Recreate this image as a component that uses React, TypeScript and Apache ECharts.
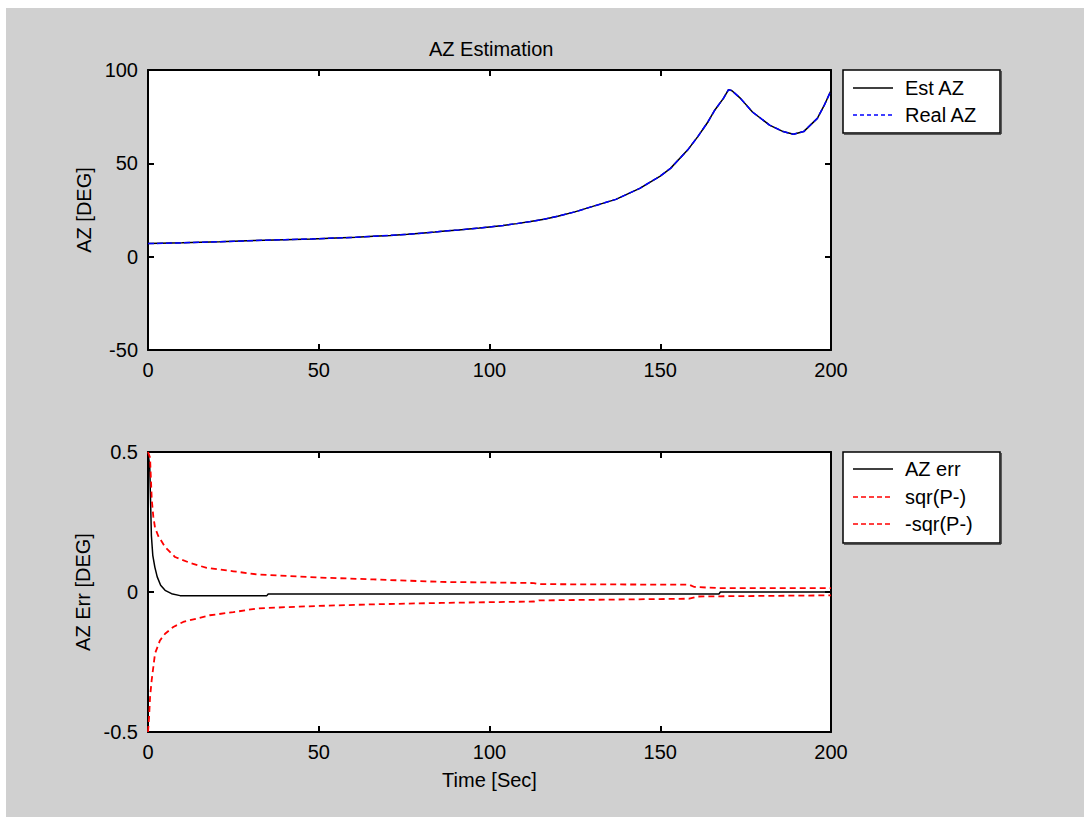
import React, { useEffect, useRef } from "react";
import * as echarts from "echarts";

// ---------- Data ----------
const titleText = "AZ Estimation";

const xTicks = [0, 50, 100, 150, 200];
const azTicks = [-50, 0, 50, 100];
const errTicks = [-0.5, 0, 0.5];

// Top plot: azimuth estimate vs. real azimuth
const azTime = [0, 10, 21, 31, 40, 48, 55, 61, 66, 71, 76, 80, 84, 87, 91, 94, 97, 100, 104, 108, 112, 116, 120, 125, 130, 137, 144, 150, 153, 158, 161, 164, 166, 168.5, 170, 171, 173.5, 177, 182, 186, 189, 192, 196, 198, 200];
const estAz = [7.0, 7.4, 8.0, 8.6, 9.1, 9.5, 10.0, 10.4, 10.9, 11.4, 12.0, 12.6, 13.2, 13.8, 14.3, 14.8, 15.3, 15.9, 16.7, 17.7, 18.8, 20.1, 21.7, 24.0, 26.8, 30.7, 36.6, 43.2, 47.3, 57.1, 64.3, 72.3, 78.6, 84.8, 89.5, 88.9, 84.8, 77.5, 70.5, 67.0, 65.6, 67.0, 74.1, 81.0, 89.0];
const realAz = [7.0, 7.4, 8.0, 8.6, 9.1, 9.5, 10.0, 10.4, 10.9, 11.4, 12.0, 12.6, 13.2, 13.8, 14.3, 14.8, 15.3, 15.9, 16.7, 17.7, 18.8, 20.1, 21.7, 24.0, 26.8, 30.7, 36.6, 43.2, 47.3, 57.1, 64.3, 72.3, 78.6, 84.8, 89.5, 88.9, 84.8, 77.5, 70.5, 67.0, 65.6, 67.0, 74.1, 81.0, 89.0];

// Bottom plot: error and +/- sqrt(P-) bounds
const errTime = [0, 0.5, 1.0, 1.4, 2.0, 2.7, 3.7, 5.0, 6.9, 9.4, 34.8, 35.2, 167.2, 167.6, 200];
const azErr = [0.5, 0.45, 0.2, 0.131, 0.089, 0.054, 0.024, 0.006, -0.006, -0.013, -0.013, -0.007, -0.007, 0.0, 0.0];

const upperTime = [0, 0.6, 1.1, 1.55, 2.05, 3.0, 5.0, 7.9, 12.3, 17.2, 25, 31.8, 41.6, 49.4, 66, 86, 113, 114.5, 158.5, 160, 167, 200];
const sqrP = [0.5, 0.48, 0.33, 0.27, 0.23, 0.2, 0.161, 0.125, 0.104, 0.086, 0.074, 0.063, 0.057, 0.052, 0.045, 0.036, 0.032, 0.028, 0.026, 0.018, 0.014, 0.014];

const lowerTime = [0, 0.3, 0.6, 1.07, 2.05, 3.5, 5.0, 7.4, 10.3, 14.2, 18.1, 25, 31.8, 40.6, 49.4, 66, 86, 113, 114.5, 158.5, 161, 200];
const negSqrP = [-0.5, -0.45, -0.376, -0.316, -0.22, -0.173, -0.149, -0.125, -0.107, -0.095, -0.083, -0.072, -0.059, -0.054, -0.05, -0.044, -0.039, -0.034, -0.030, -0.024, -0.016, -0.012];

const topLegend = ["Est AZ", "Real AZ"];
const bottomLegend = ["AZ err", "sqr(P-)", "-sqr(P-)"];

// ---------- Chart ----------
const FONT = '"Liberation Sans", Arial, Helvetica, sans-serif';
const BLACK = "#000000";
const BLUE = "#0000ff";
const RED = "#ff0000";

const pairs = (xs: number[], ys: number[]) => xs.map((x, i) => [x, ys[i]]);

function makeAxis(gridIndex: number, position: string, ticks: number[], showLabels: boolean, extra: any = {}) {
  return {
    type: "value",
    gridIndex,
    position,
    min: ticks[0],
    max: ticks[ticks.length - 1],
    interval: ticks[1] - ticks[0],
    axisLine: { show: true, onZero: false, lineStyle: { color: BLACK, width: 2 } },
    axisTick: { show: true, inside: true, length: 6, lineStyle: { color: BLACK, width: 2 } },
    axisLabel: {
      show: showLabels,
      color: BLACK,
      fontSize: 20,
      fontFamily: FONT,
      margin: 10,
    },
    splitLine: { show: false },
    ...extra,
  };
}

const nameStyle = { color: BLACK, fontSize: 20, fontFamily: FONT };

function legendBox(x: number, y: number, w: number, h: number, entries: { label: string; color: string; dash: number[] | null; }[], rowY: number[]) {
  const children: any[] = [
    { type: "rect", shape: { x, y, width: w, height: h }, style: { fill: "#ffffff", stroke: BLACK, lineWidth: 1.5 } },
    { type: "line", shape: { x1: x + w + 1, y1: y + 1, x2: x + w + 1, y2: y + h + 1 }, style: { stroke: "#333", lineWidth: 1.5 } },
    { type: "line", shape: { x1: x + 1, y1: y + h + 1, x2: x + w + 1, y2: y + h + 1 }, style: { stroke: "#333", lineWidth: 1.5 } },
  ];
  entries.forEach((e, i) => {
    children.push({
      type: "line",
      shape: { x1: x + 10, y1: rowY[i], x2: x + 50, y2: rowY[i] },
      style: { stroke: e.color, lineWidth: 1.5, lineDash: e.dash || undefined },
    });
    children.push({
      type: "text",
      x: x + 62,
      y: rowY[i],
      style: { text: e.label, fill: BLACK, font: `20px ${FONT}`, textVerticalAlign: "middle", verticalAlign: "middle", align: "left" },
    });
  });
  return { type: "group", children };
}

export default function App() {
  const ref = useRef<HTMLDivElement>(null);

  useEffect(() => {
    document.body.style.margin = "0";
    if (!ref.current) return;
    const chart = echarts.init(ref.current, null, { renderer: "svg" });

    const option: any = {
      animation: false,
      backgroundColor: "transparent",
      title: {
        text: titleText,
        left: 424,
        top: 34,
        textStyle: { color: BLACK, fontSize: 20, fontWeight: "normal", fontFamily: FONT },
      },
      grid: [
        { left: 148, top: 70, width: 683, height: 280, show: true, backgroundColor: "#ffffff", borderWidth: 0 },
        { left: 148, top: 452, width: 683, height: 280, show: true, backgroundColor: "#ffffff", borderWidth: 0 },
      ],
      xAxis: [
        makeAxis(0, "bottom", xTicks, true),
        makeAxis(0, "top", xTicks, false),
        makeAxis(1, "bottom", xTicks, true, {
          name: "Time [Sec]",
          nameLocation: "middle",
          nameGap: 38,
          nameTextStyle: nameStyle,
        }),
        makeAxis(1, "top", xTicks, false),
      ],
      yAxis: [
        makeAxis(0, "left", azTicks, true, {
          name: "AZ [DEG]",
          nameLocation: "middle",
          nameRotate: 90,
          nameGap: 52,
          nameTextStyle: nameStyle,
        }),
        makeAxis(0, "right", azTicks, false),
        makeAxis(1, "left", errTicks, true, {
          name: "AZ Err [DEG]",
          nameLocation: "middle",
          nameRotate: 90,
          nameGap: 52,
          nameTextStyle: nameStyle,
        }),
        makeAxis(1, "right", errTicks, false),
      ],
      series: [
        {
          name: topLegend[0],
          type: "line",
          xAxisIndex: 0,
          yAxisIndex: 0,
          data: pairs(azTime, estAz),
          symbol: "none",
          lineStyle: { color: BLACK, width: 1.5 },
          z: 2,
        },
        {
          name: topLegend[1],
          type: "line",
          xAxisIndex: 0,
          yAxisIndex: 0,
          data: pairs(azTime, realAz),
          symbol: "none",
          lineStyle: { color: BLUE, width: 1.5, type: [6, 3] },
          z: 3,
        },
        {
          name: bottomLegend[0],
          type: "line",
          xAxisIndex: 2,
          yAxisIndex: 2,
          data: pairs(errTime, azErr),
          symbol: "none",
          lineStyle: { color: BLACK, width: 1.5 },
          z: 2,
        },
        {
          name: bottomLegend[1],
          type: "line",
          xAxisIndex: 2,
          yAxisIndex: 2,
          data: pairs(upperTime, sqrP),
          symbol: "none",
          lineStyle: { color: RED, width: 1.8, type: [6, 4] },
          z: 3,
        },
        {
          name: bottomLegend[2],
          type: "line",
          xAxisIndex: 2,
          yAxisIndex: 2,
          data: pairs(lowerTime, negSqrP),
          symbol: "none",
          lineStyle: { color: RED, width: 1.8, type: [6, 4] },
          z: 3,
        },
      ],
      graphic: [
        legendBox(843, 70, 157, 63, [
          { label: topLegend[0], color: BLACK, dash: null },
          { label: topLegend[1], color: BLUE, dash: [4, 3] },
        ], [88, 115]),
        legendBox(843, 452, 157, 91, [
          { label: bottomLegend[0], color: BLACK, dash: null },
          { label: bottomLegend[1], color: RED, dash: [5, 3] },
          { label: bottomLegend[2], color: RED, dash: [5, 3] },
        ], [469, 497, 524]),
      ],
    };

    chart.setOption(option);
    return () => chart.dispose();
  }, []);

  return (
    <div style={{ position: "relative", width: 1084, height: 817, background: "#ffffff", overflow: "hidden" }}>
      <div style={{ position: "absolute", left: 6, top: 8, right: 0, bottom: 0, background: "#d0d0d0" }} />
      <div ref={ref} style={{ position: "absolute", left: 0, top: 0, width: 1084, height: 817 }} />
    </div>
  );
}
